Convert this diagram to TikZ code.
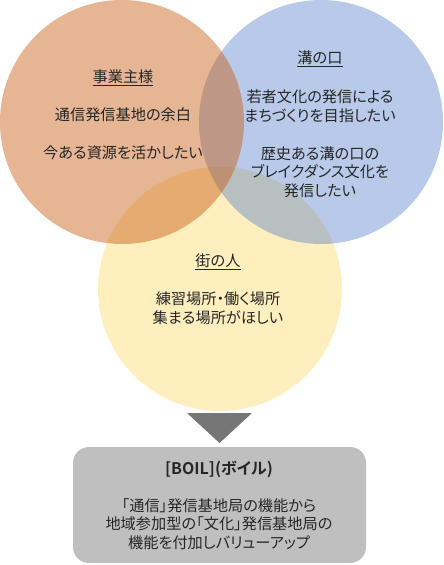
\documentclass[tikz,border=0pt]{standalone}
\usepackage{fontspec}
\setmainfont{Noto Sans CJK JP}[RawFeature=+palt, BoldFont={Noto Sans CJK JP Bold}]
\usetikzlibrary{positioning}
\definecolor{ownerfill}{RGB}{197,90,17}
\definecolor{mizofill}{RGB}{68,114,196}
\definecolor{townfill}{RGB}{255,192,0}
\definecolor{boilfill}{RGB}{191,191,191}
\definecolor{arrowfill}{RGB}{118,118,118}
\definecolor{inktext}{RGB}{38,38,38}

\tikzset{
  venn/.style={circle, minimum size=244pt, inner sep=0pt},
  jptext/.style={align=center, text=inktext, inner sep=0pt,
    font=\fontsize{15.2}{18.5}\selectfont},
  boilbox/.style={rectangle, rounded corners=16pt, fill=boilfill,
    minimum width=293pt, minimum height=116pt}
}

\begin{document}
\begin{tikzpicture}[x=1pt, y=-1pt]
  \useasboundingbox (0,0) rectangle (444,565);
  % Cercles
  \node[venn, fill=townfill, fill opacity=0.25] (town) at (220,289) {};
  \node[venn, fill=mizofill, fill opacity=0.38] (mizo) at (321,122) {};
  \node[venn, fill=ownerfill, fill opacity=0.45] (owner) at (122,122) {};
  % Textes du cercle gauche
  \node[jptext] (ownerhead) at (123,78) {\underline{事業主様}};
  \node[jptext] (ownerA) at (123,115) {通信発信基地の余白};
  \node[jptext] (ownerB) at (123,153) {今ある資源を活かしたい};
  % Textes du cercle droit
  \node[jptext] (mizohead) at (320,59) {\underline{溝の口}};
  \node[jptext] (mizoA) at (320,106) {若者文化の発信による\\まちづくりを目指したい};
  \node[jptext] (mizoB) at (320,172) {歴史ある溝の口の\\ブレイクダンス文化を\\発信したい};
  % Textes du cercle bas
  \node[jptext] (townhead) at (218,262) {\underline{街の人}};
  \node[jptext] (townA) at (218,308) {練習場所・働く場所\\集まる場所がほしい};
  % Fleche
  \coordinate (tipL) at (187,413);
  \coordinate (tipR) at (252,413);
  \coordinate (tipB) at (219.5,443);
  \fill[arrowfill] (tipL) -- (tipR) -- (tipB) -- cycle;
  % Boite BOIL
  \node[boilbox] (boil) at (219.5,505) {};
  \node[jptext, font=\bfseries\fontsize{16}{20}\selectfont] (boilhead) at (219,469) {[BOIL](ボイル)};
  \node[jptext] (boilA) at (219,524) {「通信」発信基地局の機能から\\地域参加型の「文化」発信基地局の\\機能を付加しバリューアップ};
\end{tikzpicture}
\end{document}
